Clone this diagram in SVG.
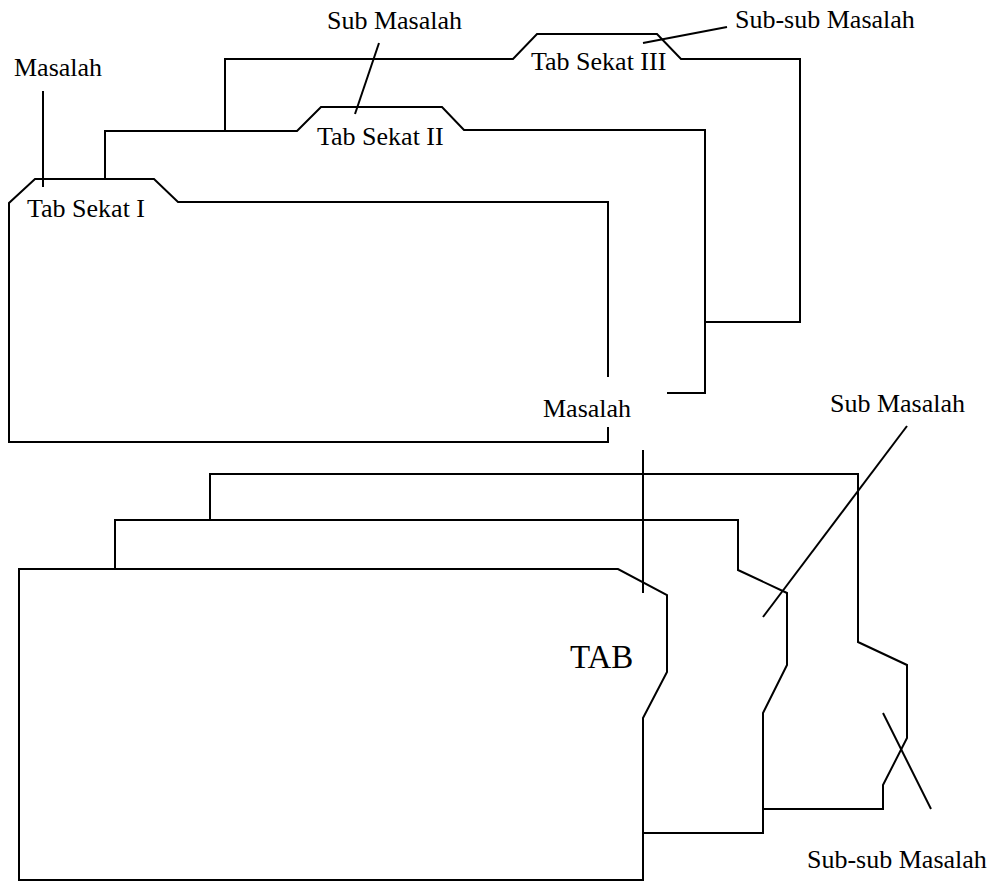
<svg xmlns="http://www.w3.org/2000/svg" width="995" height="884" viewBox="0 0 995 884">
<style>
.ln{fill:none;stroke:#000;stroke-width:2;stroke-linejoin:miter}
.t{font-family:"Liberation Serif","Times New Roman",serif;font-size:26px;fill:#000}
.tab{font-family:"Liberation Serif","Times New Roman",serif;font-size:33px;fill:#000}
</style>
<rect width="995" height="884" fill="#fff"/>
<g id="folder-top-3">
<path class="ln" d="M225,131 V59 H513 L537,34 H657 L681,59 H800 V322 H705"/>
<text class="t" x="531" y="70">Tab Sekat III</text>
</g>
<g id="folder-top-2">
<path class="ln" d="M105,178 V131 H297 L321,107 H442 L464,130 H705 V393 H667"/>
<text class="t" x="317" y="145">Tab Sekat II</text>
</g>
<g id="folder-top-1">
<path class="ln" d="M608,377 V202 H178 L154,179 H35 L9,203 V442 H608 V427"/>
<text class="t" x="27" y="217">Tab Sekat I</text>
</g>
<g id="folder-bottom-3">
<path class="ln" d="M210,520 V474 H858 V642 L907,665 V738 L883,785 V809 H763"/>
</g>
<g id="folder-bottom-2">
<path class="ln" d="M115,569 V520 H738 V570 L787,593 V665 L763,713 V833 H643"/>
</g>
<g id="folder-bottom-1">
<path class="ln" d="M19,569 H618 L667,595 V672 L643,718 V880 H19 Z"/>
<text class="tab" x="570" y="668">TAB</text>
</g>
<g id="labels">
<text class="t" x="14" y="76">Masalah</text>
<text class="t" x="327" y="29">Sub Masalah</text>
<text class="t" x="735" y="28">Sub-sub Masalah</text>
<text class="t" x="543" y="417">Masalah</text>
<text class="t" x="830" y="412">Sub Masalah</text>
<text class="t" x="807" y="868">Sub-sub Masalah</text>
</g>
<g id="connectors">
<path class="ln" d="M43,91 V187"/>
<path class="ln" d="M379,43 L355,114"/>
<path class="ln" d="M643,43 L727,27"/>
<path class="ln" d="M643,450 V593"/>
<path class="ln" d="M907,426 L763,617"/>
<path class="ln" d="M883,713 L931,809"/>
</g>
</svg>
